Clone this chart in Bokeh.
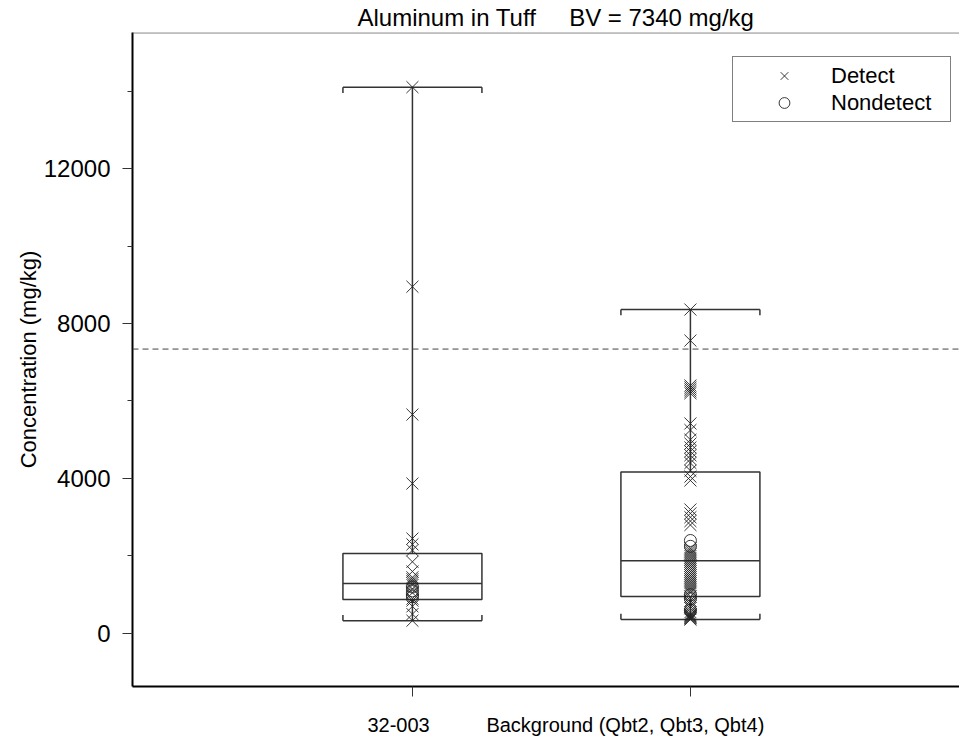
from bokeh.plotting import figure
from bokeh.models import (Range1d, FixedTicker, LinearAxis, Span, Title,
                          Legend, LegendItem, ColumnDataSource)
from bokeh.embed import file_html
from bokeh.resources import INLINE

# ---------------- data ----------------
site_labels = ["32-003", "Background (Qbt2, Qbt3, Qbt4)"]
positions = [1, 2]
q1 = [880, 955]
median = [1290, 1880]
q3 = [2065, 4170]
whisker_lo = [330, 360]
whisker_hi = [14100, 8360]
bv = 7340

detect_site = [14100, 8950, 5650, 3870, 2450, 2300, 2150, 1850, 1600, 1450,
               1400, 1350, 1300, 1250, 1150, 1050, 900, 850, 700, 500, 330]
nondetect_site = [1200, 1100, 1000, 950]

detect_bg = [8360, 7560, 6400, 6350, 6300, 6250, 6200, 5420, 5250, 5000, 4900,
             4800, 4700, 4600, 4500, 4400, 4200, 4050, 3950, 3200, 3100, 3000,
             2900, 2800, 2200, 2150, 2100, 2050, 2000, 1950, 1900, 1850, 1800,
             1750, 1700, 1650, 1600, 1550, 1500, 1450, 1400, 1350, 1300, 1250,
             1200, 1150, 1100, 1050, 950, 850, 800, 750, 700, 650, 550, 500,
             480, 460, 440, 420, 400, 380, 360]
nondetect_bg = [2400, 2250, 1000, 900, 600]

y_ticks = [0, 4000, 8000, 12000]
y_minor = [2000, 6000, 10000, 14000]

FONT = "Liberation Sans"
LC = "#333333"
Y0, Y1 = -1368, 15510
label_shift = [-0.05, -0.234]   # label centres sit left of the ticks, as in the source

p = figure(width=959, height=742, output_backend="svg", toolbar_location=None,
           x_range=Range1d(-0.007, 2.968), y_range=Range1d(Y0, Y1),
           min_border_left=132, min_border_right=0, min_border_top=32,
           min_border_bottom=56, x_axis_location=None, y_axis_location=None)
p.outline_line_color = None
p.grid.visible = False
p.background_fill_color = "white"
p.border_fill_color = "white"

# title (non-breaking spaces keep the wide gap)
p.add_layout(Title(text="Aluminum in Tuff\u00a0\u00a0\u00a0\u00a0 BV = 7340 mg/kg",
                   align="left", offset=225, text_font=FONT, text_font_size="24px",
                   text_font_style="normal", text_color="black", standoff=3), "above")

# axes
yax = LinearAxis(ticker=FixedTicker(ticks=y_ticks, minor_ticks=y_minor),
                 axis_label="Concentration (mg/kg)")
yax.axis_line_width = 2
yax.axis_line_color = "black"
yax.major_tick_out = 10
yax.major_tick_in = 0
yax.minor_tick_out = 5
yax.minor_tick_in = 0
yax.major_tick_line_color = LC
yax.minor_tick_line_color = LC
yax.major_label_text_font = FONT
yax.major_label_text_font_size = "24px"
yax.major_label_text_color = "black"
yax.major_label_standoff = 12
yax.axis_label_text_font = FONT
yax.axis_label_text_font_size = "22px"
yax.axis_label_text_font_style = "normal"
yax.axis_label_text_color = "black"
yax.axis_label_standoff = 0
p.add_layout(yax, "left")

# x axis: line + ticks
xax = LinearAxis(ticker=FixedTicker(ticks=positions, minor_ticks=[]),
                 major_label_overrides={pos: "" for pos in positions})
xax.axis_line_width = 2
xax.axis_line_color = "black"
xax.major_tick_out = 10
xax.major_tick_in = 0
xax.major_tick_line_color = LC
xax.major_label_text_font_size = "1px"
xax.major_label_standoff = 0
p.add_layout(xax, "below")

# x axis: category labels
lab_pos = [pos + s for pos, s in zip(positions, label_shift)]
xlab = LinearAxis(ticker=FixedTicker(ticks=lab_pos, minor_ticks=[]),
                  major_label_overrides={lp: lab for lp, lab in zip(lab_pos, site_labels)})
xlab.axis_line_color = None
xlab.major_tick_line_color = None
xlab.minor_tick_line_color = None
xlab.major_tick_out = 0
xlab.major_tick_in = 0
xlab.major_label_text_font = FONT
xlab.major_label_text_font_size = "20px"
xlab.major_label_text_color = "black"
xlab.major_label_standoff = 17
p.add_layout(xlab, "below")

# top frame line
p.add_layout(Span(location=Y1 - 10, dimension="width", line_color="#555555", line_width=1))

# background value line
p.add_layout(Span(location=bv, dimension="width", line_color="#444444",
                  line_dash="6 4", line_width=1))

# boxes
hw = 0.25
cap = 150
box = ColumnDataSource(dict(x=positions, q1=q1, q3=q3, med=median,
                            lo=whisker_lo, hi=whisker_hi,
                            hi_end=[h - cap for h in whisker_hi],
                            lo_end=[v + cap for v in whisker_lo],
                            l=[x - hw for x in positions], r=[x + hw for x in positions]))
p.quad(left="l", right="r", bottom="q1", top="q3", source=box,
       fill_color=None, line_color=LC, line_width=1.5)
p.segment(x0="l", x1="r", y0="med", y1="med", source=box, line_color=LC, line_width=1.5)
p.segment(x0="x", x1="x", y0="q3", y1="hi", source=box, line_color=LC, line_width=1.5)
p.segment(x0="x", x1="x", y0="q1", y1="lo", source=box, line_color=LC, line_width=1.5)
p.segment(x0="l", x1="r", y0="hi", y1="hi", source=box, line_color=LC, line_width=1.5)
p.segment(x0="l", x1="r", y0="lo", y1="lo", source=box, line_color=LC, line_width=1.5)
for xs in ("l", "r"):
    p.segment(x0=xs, x1=xs, y0="hi", y1="hi_end", source=box, line_color=LC, line_width=1.5)
    p.segment(x0=xs, x1=xs, y0="lo", y1="lo_end", source=box, line_color=LC, line_width=1.5)

# points
dx = [positions[0]] * len(detect_site) + [positions[1]] * len(detect_bg)
dy = detect_site + detect_bg
nx = [positions[0]] * len(nondetect_site) + [positions[1]] * len(nondetect_bg)
ny = nondetect_site + nondetect_bg
r_det = p.scatter(dx, dy, marker="x", size=17, line_color="#222222", line_width=0.9)
r_nd = p.scatter(nx, ny, marker="circle", size=12, fill_color=None,
                 line_color="#222222", line_width=0.9)

legend = Legend(items=[LegendItem(label="Detect", renderers=[r_det]),
                       LegendItem(label="Nondetect", renderers=[r_nd])],
                location=(600, 564))
legend.border_line_color = "black"
legend.border_line_width = 1
legend.background_fill_color = "white"
legend.background_fill_alpha = 1
legend.padding = 5
legend.margin = 0
legend.spacing = 0
legend.glyph_height = 27
legend.glyph_width = 92
legend.label_standoff = 1
legend.label_width = 114
legend.label_height = 27
legend.label_text_font = FONT
legend.label_text_font_size = "22px"
legend.label_text_color = "black"
p.add_layout(legend, "center")

open("out.html", "w").write(file_html(p, INLINE))
